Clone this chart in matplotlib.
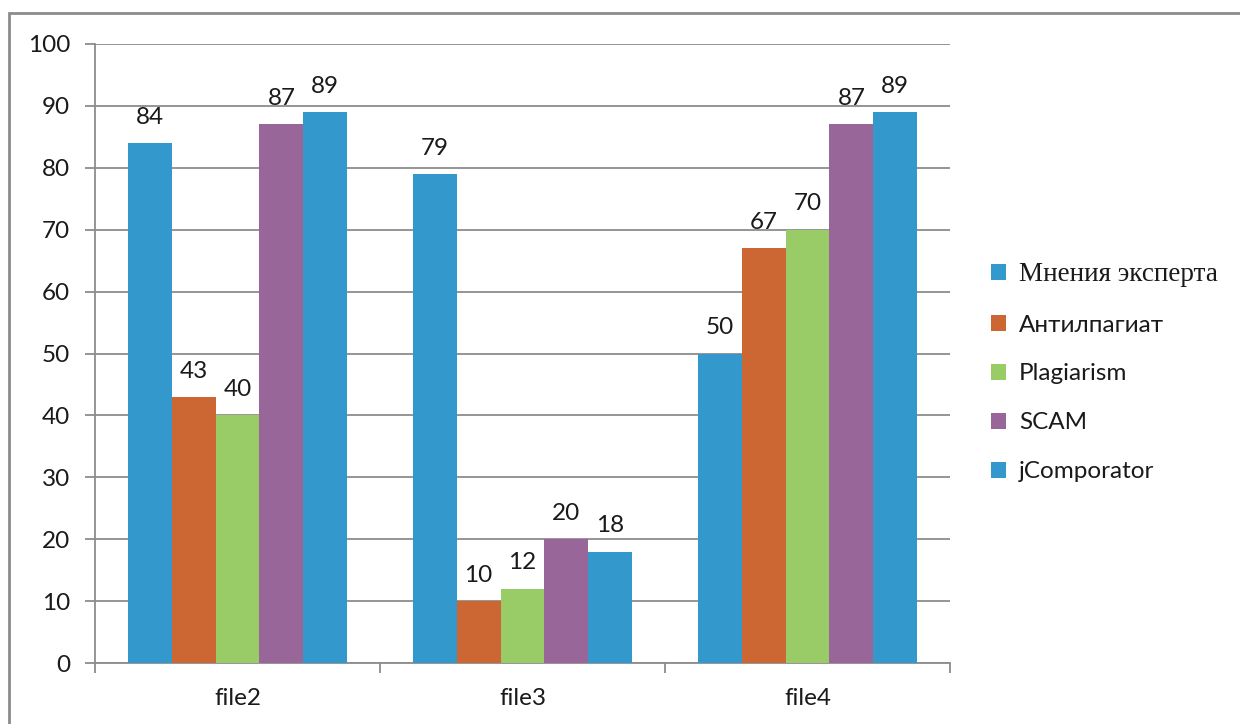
import numpy as np
import matplotlib.pyplot as plt
from matplotlib.patches import Rectangle

plt.rcParams['font.family'] = ['Lato', 'DejaVu Sans']

files = ['file2', 'file3', 'file4']
series_names = ['Мнения эксперта', 'Антилпагиат', 'Plagiarism', 'SCAM', 'jComporator']
expert = [84, 79, 50]
antiplagiat = [43, 10, 67]
plagiarism = [40, 12, 70]
scam = [87, 20, 87]
jcomporator = [89, 18, 89]

values = [expert, antiplagiat, plagiarism, scam, jcomporator]
colors = ['#3399CC', '#CC6633', '#99CC66', '#996699', '#3399CC']
fs = 17.5

fig = plt.figure(figsize=(12.4, 7.24), dpi=100)
ax = fig.add_axes([95 / 1240, 1 - 663 / 724, 855 / 1240, 619 / 724])

# outer frame of the chart area
fig.patches.append(Rectangle((9 / 1240, -0.1), 1.2, 1.1 - 13 / 724, transform=fig.transFigure,
                             fill=False, edgecolor='#8c8c8c', linewidth=2))

x = np.arange(len(files))
width = 0.154
bars = []
for i, (vals, col, name) in enumerate(zip(values, colors, series_names)):
    pos = x + (i - 2) * width
    b = ax.bar(pos, vals, width=width, color=col, label=name, zorder=3)
    bars.append(b)
    for px, v in zip(pos, vals):
        ax.annotate(str(v), (px, v), xytext=(0, 11), textcoords='offset points',
                    ha='center', va='bottom', fontsize=fs, color='#1a1a1a')

ax.set_xlim(-0.5, 2.5)
ax.set_ylim(0, 100)
ax.set_yticks(range(0, 101, 10))
ax.yaxis.grid(True, color='#8c8c8c', linewidth=1.3, zorder=0)
ax.set_axisbelow(True)

ax.set_xticks(x)
ax.set_xticklabels(files)
ax.set_xticks([-0.5, 0.5, 1.5, 2.5], minor=True)
ax.tick_params(axis='x', which='major', length=0, pad=18, labelsize=fs, labelcolor='#1a1a1a')
ax.tick_params(axis='x', which='minor', length=7, width=1.3, color='#8c8c8c')
ax.tick_params(axis='y', length=7, width=1.3, color='#8c8c8c', pad=11, labelsize=fs, labelcolor='#1a1a1a')

for s in ['top', 'right']:
    ax.spines[s].set_visible(False)
for s in ['left', 'bottom']:
    ax.spines[s].set_color('#8c8c8c')
    ax.spines[s].set_linewidth(1.3)

leg = fig.legend(handles=bars, labels=series_names, loc='center left',
                 bbox_to_anchor=(991 / 1240, 1 - 372 / 724), frameon=False,
                 fontsize=fs, handlelength=0.6, handleheight=0.6, handletextpad=0.55,
                 labelspacing=1.15, borderpad=0, borderaxespad=0)
for t in leg.get_texts():
    t.set_color('#1a1a1a')
leg.get_texts()[0].set_family('Liberation Serif')
leg.get_texts()[0].set_fontsize(19.5)

fig.savefig('out.png', dpi=100)
